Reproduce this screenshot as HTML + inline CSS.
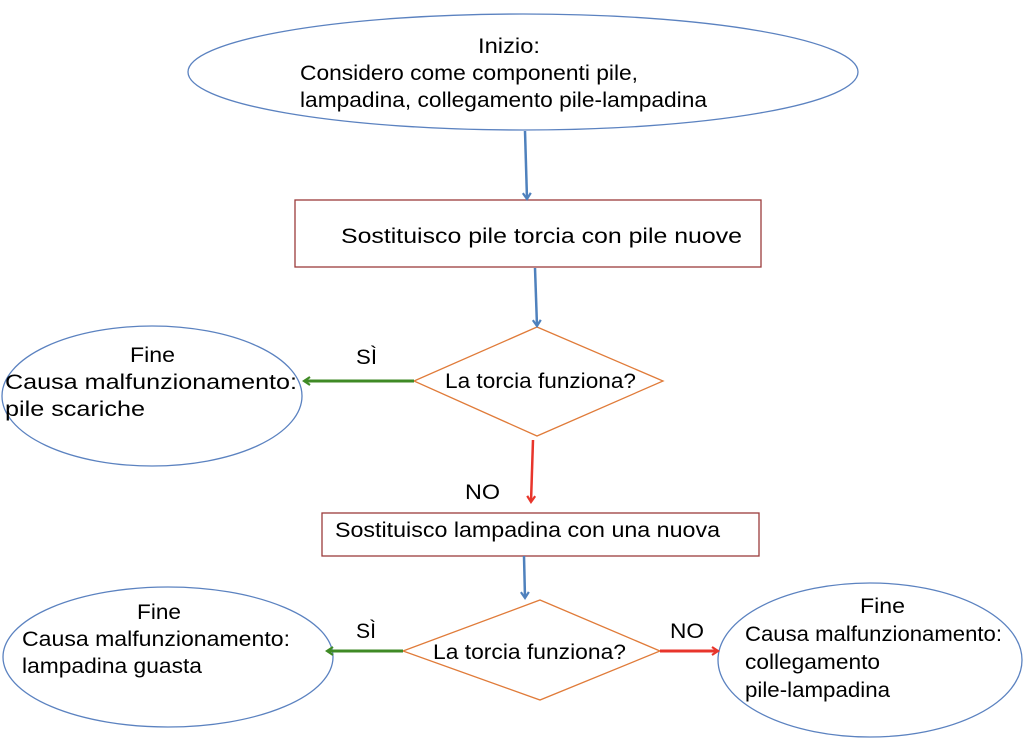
<!DOCTYPE html>
<html><head><meta charset="utf-8"><style>
html,body{margin:0;padding:0;background:#fff;}
svg{display:block;}
text{font-family:"Liberation Sans",sans-serif;font-size:21px;fill:#000;}
</style></head><body>
<svg width="1024" height="751" viewBox="0 0 1024 751" xmlns="http://www.w3.org/2000/svg">
<defs>
<marker id="ab" markerWidth="10" markerHeight="10" refX="7" refY="5" orient="auto" markerUnits="userSpaceOnUse"><path d="M1,1 L7,5 L1,9" fill="none" stroke="#4f81bd" stroke-width="2.2"/></marker>
<marker id="ag" markerWidth="10" markerHeight="10" refX="7" refY="5" orient="auto" markerUnits="userSpaceOnUse"><path d="M1,1 L7,5 L1,9" fill="none" stroke="#3f8a25" stroke-width="2.2"/></marker>
<marker id="ar" markerWidth="10" markerHeight="10" refX="7" refY="5" orient="auto" markerUnits="userSpaceOnUse"><path d="M1,1 L7,5 L1,9" fill="none" stroke="#e8352b" stroke-width="2.2"/></marker>
</defs>
<!-- shapes first -->
<ellipse cx="523" cy="72" rx="335" ry="58" fill="#fff" stroke="#5b82c0" stroke-width="1.3"/>
<rect x="295" y="200" width="466" height="67" fill="#fff" stroke="#9c3b3b" stroke-width="1.3"/>
<polygon points="537,327 663,381 537,436 414,381" fill="#fff" stroke="#e07b39" stroke-width="1.3"/>
<ellipse cx="152" cy="396" rx="150" ry="70" fill="#fff" stroke="#5b82c0" stroke-width="1.3"/>
<rect x="322" y="513" width="437" height="43" fill="#fff" stroke="#9c3b3b" stroke-width="1.3"/>
<polygon points="540,600 660,651 540,700 403,651" fill="#fff" stroke="#e07b39" stroke-width="1.3"/>
<ellipse cx="168" cy="657" rx="165" ry="70" fill="#fff" stroke="#5b82c0" stroke-width="1.3"/>
<ellipse cx="870" cy="660" rx="152" ry="77" fill="#fff" stroke="#5b82c0" stroke-width="1.3"/>
<!-- connectors -->
<line x1="525" y1="131" x2="527" y2="199" stroke="#4f81bd" stroke-width="2.5" marker-end="url(#ab)"/>
<line x1="535" y1="268" x2="537" y2="326" stroke="#4f81bd" stroke-width="2.5" marker-end="url(#ab)"/>
<line x1="414" y1="381" x2="304" y2="381" stroke="#3f8a25" stroke-width="3" marker-end="url(#ag)"/>
<line x1="533" y1="440" x2="531" y2="502" stroke="#e8352b" stroke-width="2.5" marker-end="url(#ar)"/>
<line x1="524" y1="556" x2="525" y2="598" stroke="#4f81bd" stroke-width="2.5" marker-end="url(#ab)"/>
<line x1="403" y1="651" x2="327" y2="651" stroke="#3f8a25" stroke-width="3" marker-end="url(#ag)"/>
<line x1="660" y1="651" x2="718" y2="651" stroke="#e8352b" stroke-width="3" marker-end="url(#ar)"/>
<!-- text -->
<text x="478" y="53" textLength="62" lengthAdjust="spacingAndGlyphs">Inizio:</text>
<text x="300" y="80" textLength="338" lengthAdjust="spacingAndGlyphs">Considero come componenti pile,</text>
<text x="300" y="107" textLength="407" lengthAdjust="spacingAndGlyphs">lampadina, collegamento pile-lampadina</text>
<text x="341" y="243" textLength="401" lengthAdjust="spacingAndGlyphs">Sostituisco pile torcia  con pile nuove</text>
<text x="445" y="388" textLength="191" lengthAdjust="spacingAndGlyphs">La torcia funziona?</text>
<text x="356" y="364" textLength="21" lengthAdjust="spacingAndGlyphs">SÌ</text>
<text x="130" y="362" textLength="45" lengthAdjust="spacingAndGlyphs">Fine</text>
<text x="5" y="389" textLength="292" lengthAdjust="spacingAndGlyphs">Causa malfunzionamento:</text>
<text x="5" y="416" textLength="140" lengthAdjust="spacingAndGlyphs">pile scariche</text>
<text x="465" y="499" textLength="35" lengthAdjust="spacingAndGlyphs">NO</text>
<text x="335" y="537" textLength="385" lengthAdjust="spacingAndGlyphs">Sostituisco lampadina con una nuova</text>
<text x="433" y="659" textLength="193" lengthAdjust="spacingAndGlyphs">La torcia funziona?</text>
<text x="356" y="638" textLength="20" lengthAdjust="spacingAndGlyphs">SÌ</text>
<text x="670" y="638" textLength="34" lengthAdjust="spacingAndGlyphs">NO</text>
<text x="137" y="619" textLength="44" lengthAdjust="spacingAndGlyphs">Fine</text>
<text x="22" y="646" textLength="268" lengthAdjust="spacingAndGlyphs">Causa malfunzionamento:</text>
<text x="22" y="673" textLength="180" lengthAdjust="spacingAndGlyphs">lampadina guasta</text>
<text x="860" y="613" textLength="45" lengthAdjust="spacingAndGlyphs">Fine</text>
<text x="745" y="641" textLength="257" lengthAdjust="spacingAndGlyphs">Causa malfunzionamento:</text>
<text x="745" y="669" textLength="135" lengthAdjust="spacingAndGlyphs">collegamento</text>
<text x="745" y="697" textLength="145" lengthAdjust="spacingAndGlyphs">pile-lampadina</text>
</svg>
</body></html>
